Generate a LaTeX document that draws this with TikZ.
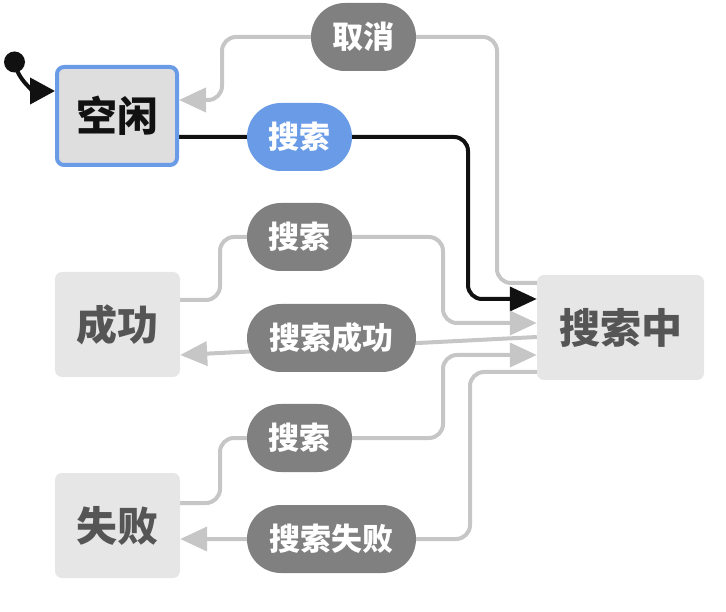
\documentclass[tikz,border=0pt]{standalone}
\usepackage{fontspec}
\newfontfamily\cjk{Noto Sans CJK SC}
\usetikzlibrary{arrows.meta}
\definecolor{blu}{HTML}{6A9BE6}
\definecolor{pillgray}{HTML}{808080}
\definecolor{edgegray}{HTML}{C6C6C6}
\definecolor{boxfill}{HTML}{E6E6E6}
\definecolor{idlefill}{HTML}{DEDEDE}
\definecolor{boxtext}{HTML}{555555}
\definecolor{ink}{HTML}{111111}
\pgfdeclarelayer{bg}
\pgfsetlayers{bg,main}
\tikzset{
  statebox/.style={rectangle, rounded corners=7pt, fill=boxfill, text=boxtext,
    font=\cjk\bfseries\fontsize{41}{45}\selectfont, inner sep=0pt},
  pill/.style={rectangle, rounded corners=33.9pt, fill=pillgray, text=white,
    minimum height=68pt, font=\cjk\bfseries\fontsize{31}{34}\selectfont, inner sep=0pt},
  gedge/.style={draw=edgegray, line width=4pt, rounded corners=14pt},
  bedge/.style={draw=ink, line width=4pt, rounded corners=14pt},
  gtip/.style={-{Triangle[length=27pt,width=24pt]}},
}
\begin{document}
\begin{tikzpicture}[x=1pt,y=-1pt]
\useasboundingbox (0,0) rectangle (726,612);
% states
\node[statebox, fill=idlefill, text=ink, draw=blu, line width=4pt,
      minimum width=120pt, minimum height=98pt] (idle) at (117,116) {空闲};
\node[statebox, minimum width=125pt, minimum height=105pt] (ok) at (117.5,324.5) {成功};
\node[statebox, minimum width=125pt, minimum height=105pt] (fail) at (117.5,525.5) {失败};
\node[statebox, minimum width=167pt, minimum height=105pt] (work) at (620.5,327.5) {搜索中};
% labels
\node[pill, minimum width=105pt] (lcancel) at (363.5,37) {取消};
\node[pill, fill=blu, minimum width=105pt] (lsearch) at (299.5,137) {搜索};
\node[pill, minimum width=105pt] (lsok) at (299.5,237) {搜索};
\node[pill, minimum width=169pt] (lok) at (331.5,338) {搜索成功};
\node[pill, minimum width=105pt] (lsfail) at (299.5,438) {搜索};
\node[pill, minimum width=169pt] (lfail) at (331.5,539) {搜索失败};
% initial dot
\node[circle, fill=ink, minimum size=21pt, inner sep=0pt] (init) at (14.5,62) {};
\begin{pgfonlayer}{bg}
\draw[draw=ink, line width=4pt, -{Triangle[length=25pt,width=26pt]}]
  (init.center) to[out=-80,in=180] (idle.west |- 0,91);
% idle -> searching (black)
\draw[bedge, -{Triangle[length=27pt,width=24pt]}]
  (idle.east |- lsearch) -- (lsearch) -- (468,137) -- (468,299) -- (work.west |- 0,299);
% cancel
\draw[gedge, gtip]
  (work.west |- 0,283) -- (497,283) -- (497,37) -- (lcancel) -- (222,37) -- (222,100) -- (idle.east |- 0,100);
% ok -> searching
\draw[gedge, gtip]
  (ok.east |- 0,300) -- (220,300) -- (220,237) -- (lsok) -- (443,237) -- (443,323) -- (work.west |- 0,323);
% searching -> ok
\draw[gedge, gtip, rounded corners=0pt]
  (work.west |- 0,337) -- (ok.east |- 0,355);
% fail -> searching
\draw[gedge, gtip]
  (fail.east |- 0,503) -- (220,503) -- (220,438) -- (lsfail) -- (443,438) -- (443,355) -- (work.west |- 0,355);
% searching -> fail
\draw[gedge, gtip]
  (work.west |- 0,372) -- (470,372) -- (470,539) -- (lfail) -- (fail.east |- 0,539);
\end{pgfonlayer}
\end{tikzpicture}
\end{document}
